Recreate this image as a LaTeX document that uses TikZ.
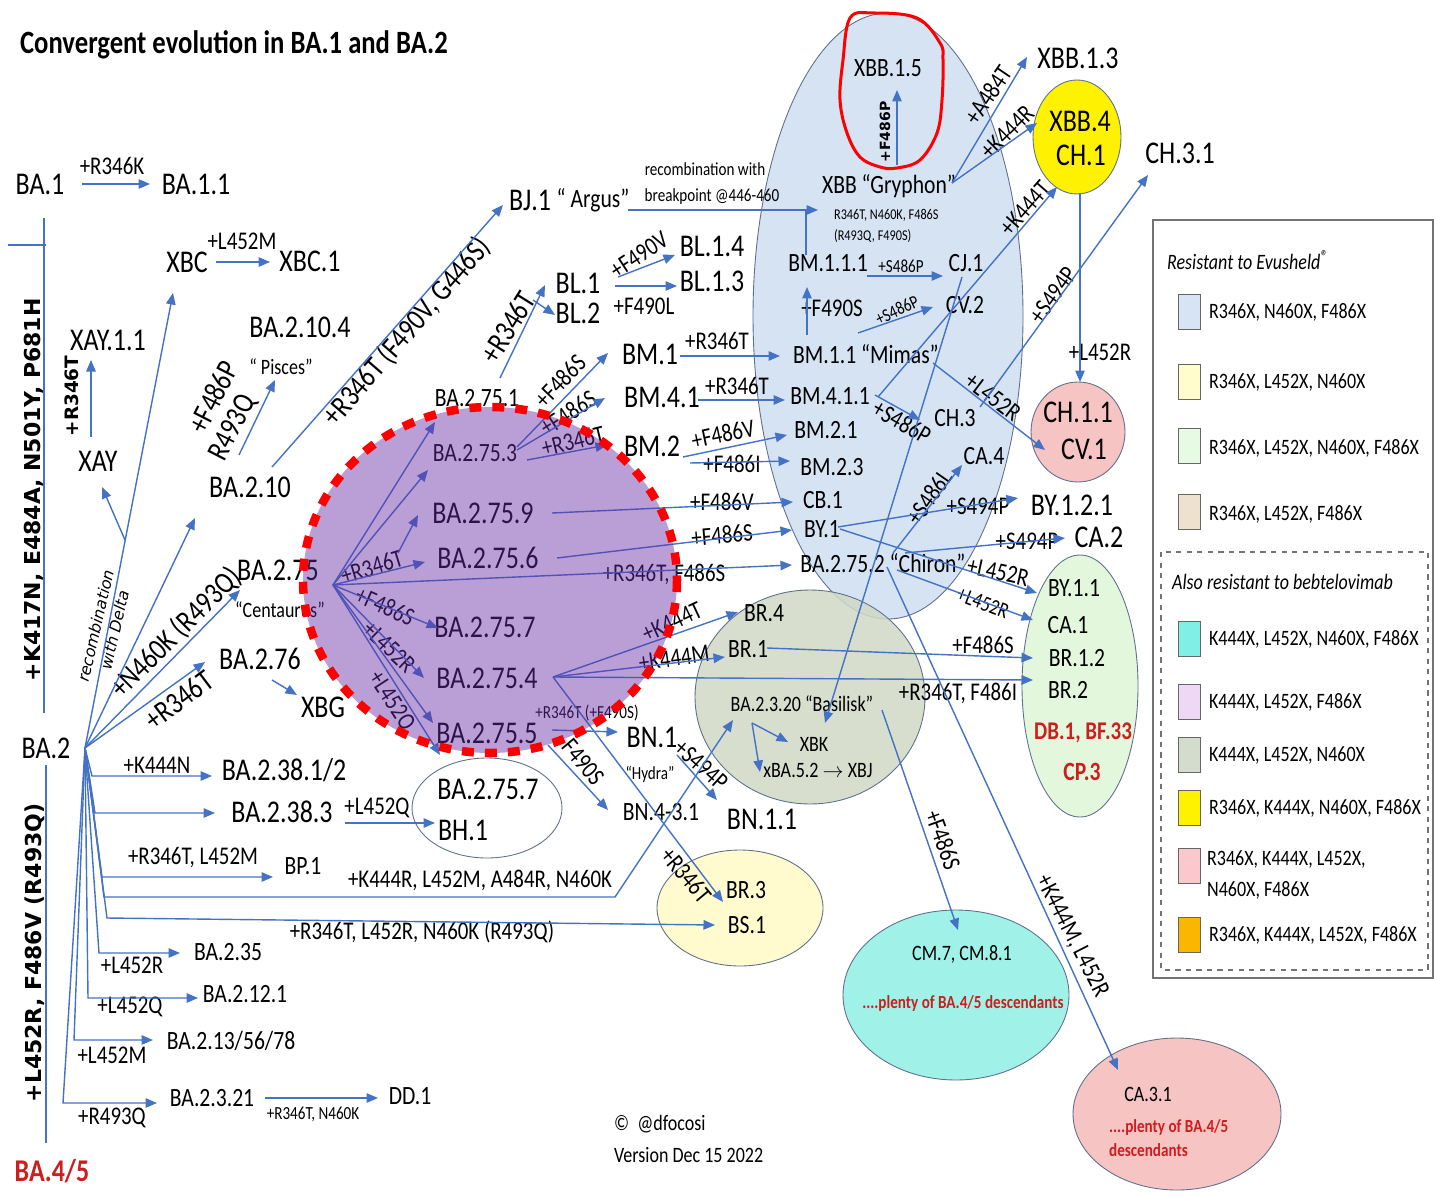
\documentclass[tikz,border=0pt]{standalone}
\usepackage{fontspec}
\setmainfont{Carlito}[FakeStretch=0.82]
\newfontfamily\sidefont{DejaVu Sans}
\usetikzlibrary{arrows.meta,calc}

\definecolor{lblue}{RGB}{68,114,196}
\definecolor{eborder}{RGB}{95,112,140}
\definecolor{xbbfill}{RGB}{214,227,243}
\definecolor{basfill}{RGB}{208,217,198}
\definecolor{grnfill}{RGB}{227,247,221}
\definecolor{pnkfill}{RGB}{247,196,196}
\definecolor{lylfill}{RGB}{255,251,206}
\definecolor{cynfill}{RGB}{160,242,232}
\definecolor{purpfill}{RGB}{100,44,166}
\definecolor{dred}{RGB}{205,30,30}

\newcommand{\fsttl}{\fontsize{18.5}{21}\selectfont\bfseries}
\newcommand{\fsbig}{\fontsize{18}{20}\selectfont}
\newcommand{\fsmid}{\fontsize{15}{17}\selectfont}
\newcommand{\fsmub}{\fontsize{17.5}{19}\selectfont}
\newcommand{\fsmut}{\fontsize{14.5}{16}\selectfont}
\newcommand{\fsbas}{\fontsize{12.5}{14}\selectfont}
\newcommand{\fssml}{\fontsize{10.5}{12}\selectfont}
\newcommand{\fstny}{\fontsize{8.5}{10}\selectfont}

\tikzset{
  varrow/.style={draw=lblue, line width=0.8pt, -{Triangle[length=2.3mm, width=1.9mm]}},
  vline/.style={draw=lblue, line width=0.8pt},
  grpell/.style={draw=eborder, line width=0.5pt},
  vttl/.style={font=\fsttl, inner sep=1pt},
  vbig/.style={font=\fsbig, inner sep=1pt},
  vmid/.style={font=\fsmid, inner sep=1pt},
  vmut/.style={font=\fsmut, inner sep=1pt},
  vmub/.style={font=\fsmub, inner sep=1pt},
  vbas/.style={font=\fsbas, inner sep=1pt},
  vsml/.style={font=\fssml, inner sep=1pt},
  vtny/.style={font=\fstny, inner sep=1pt},
  vred/.style={text=dred, inner sep=1pt},
  vside/.style={font=\sidefont\bfseries\fontsize{12.5}{14}\selectfont, rotate=90, inner sep=1pt},
  legbox/.style={draw=black!55, line width=0.6pt},
  swatch/.style={draw=black!60, line width=0.5pt, minimum width=4.4mm, minimum height=7mm, inner sep=0pt},
  legt/.style={font=\fsbas, anchor=west, inner sep=1pt},
  legh/.style={font=\fsbas\itshape, anchor=west, inner sep=1pt}
}

\begin{document}
\begin{tikzpicture}[x=0.2mm, y=-0.2mm]
\useasboundingbox (0,0) rectangle (1434,1197);
\fill[white] (0,0) rectangle (1434,1197);

\draw[grpell, fill=xbbfill] (888,316) ellipse [x radius=135, y radius=303];
\draw[grpell, fill=basfill, fill opacity=0.85] (810,697) ellipse [x radius=115, y radius=107];
\draw[grpell, fill=grnfill] (1080,686) ellipse [x radius=58, y radius=131];
\draw[grpell, fill=yellow] (1077,137) ellipse [x radius=44, y radius=57];
\draw[grpell, fill=pnkfill] (1078,432) ellipse [x radius=47, y radius=50];
\draw[grpell] (487,808) ellipse [x radius=75, y radius=50];
\draw[grpell, fill=lylfill] (740,908) ellipse [x radius=83, y radius=58];
\draw[grpell, fill=cynfill] (956,995) ellipse [x radius=113, y radius=85];
\draw[grpell, fill=pnkfill] (1177,1114) ellipse [x radius=104, y radius=76];

\node[vttl, anchor=west] (title) at (18,45) {Convergent evolution in BA.1 and BA.2};

\node[vbig] (ba1) at (40,184) {BA.1};
\node[vbig] (ba11) at (196,184) {BA.1.1};
\node[vbig] (xbc) at (187,262) {XBC};
\node[vbig] (xbc1) at (310,261) {XBC.1};
\node[vbig] (xay11) at (108,340) {XAY.1.1};
\node[vbig] (xay) at (98,461) {XAY};
\node[vbig] (ba2104) at (300,327) {BA.2.10.4};
\node[vbas] (pisces) at (281,367) {“ Pisces”};
\node[vbig] (ba210) at (250,487) {BA.2.10};
\node[vbig] (ba275) at (278,570) {BA.2.75};
\node[vbas] (centaurus) at (280,610) {“Centaurus”};
\node[vbig] (ba276) at (260,659) {BA.2.76};
\node[vbig] (xbg) at (323,707) {XBG};
\node[vbig] (ba2) at (46,748) {BA.2};
\node[vbig] (ba2381) at (284,770) {BA.2.38.1/2};
\node[vbig] (ba2383) at (282,812) {BA.2.38.3};
\node[vmid] (bp1) at (303,866) {BP.1};
\node[vmid] (ba235) at (228,952) {BA.2.35};
\node[vmid] (ba2121) at (245,994) {BA.2.12.1};
\node[vmid] (ba21356) at (231,1041) {BA.2.13/56/78};
\node[vmid] (ba2321) at (212,1098) {BA.2.3.21};
\node[vmid] (dd1) at (410,1096) {DD.1};
\node[vred, font=\fsbig\bfseries] (ba45) at (52,1171) {BA.4/5};

\node[vbig] (bj1) at (530,200) {BJ.1};
\node[vmid] (argus) at (593,200) {“ Argus”};
\node[vbig] (bl1) at (578,283) {BL.1};
\node[vbig] (bl2) at (578,313) {BL.2};
\node[vbig] (bl14) at (712,246) {BL.1.4};
\node[vbig] (bl13) at (712,281) {BL.1.3};
\node[vbig] (bm1) at (650,354) {BM.1};
\node[vbig] (bm41) at (662,397) {BM.4.1};
\node[vbig] (bm2) at (652,446) {BM.2};

\node[vmid] (ba2751) at (477,398) {BA.2.75.1};
\node[vmid] (ba2753) at (475,453) {BA.2.75.3};
\node[vbig] (ba2759) at (483,513) {BA.2.75.9};
\node[vbig] (ba2756) at (488,558) {BA.2.75.6};
\node[vbig] (ba2757) at (485,627) {BA.2.75.7};
\node[vbig] (ba2754) at (487,678) {BA.2.75.4};
\node[vbig] (ba2755) at (487,733) {BA.2.75.5};

\node[vbig] (bn1) at (652,737) {BN.1};
\node[vsml] (hydra) at (650,774) {“Hydra”};
\node[vbig] (bn11) at (762,819) {BN.1.1};
\node[vmid] (bn431) at (661,812) {BN.4-3.1};
\node[vbig] (bha) at (488,789) {BA.2.75.7};
\node[vbig] (bhb) at (463,830) {BH.1};
\node[vmid] (br3) at (746,890) {BR.3};
\node[vmid] (bs1) at (747,925) {BS.1};

\node[vmid] (xbb15) at (888,68) {XBB.1.5};
\node[vmid] (xbbg) at (889,186) {XBB “Gryphon”};
\node[vtny, anchor=west] (gry1) at (832,215) {R346T, N460K, F486S};
\node[vtny, anchor=west] (gry2) at (832,236) {(R493Q, F490S)};
\node[vmid] (bm111) at (828,263) {BM.1.1.1};
\node[vmid] (cj1) at (966,263) {CJ.1};
\node[vmid] (cv2) at (965,305) {CV.2};
\node[vmid] (bm11) at (866,354) {BM.1.1 “Mimas”};
\node[vmid] (bm411) at (830,396) {BM.4.1.1};
\node[vmid] (bm21) at (826,430) {BM.2.1};
\node[vmid] (bm23) at (832,467) {BM.2.3};
\node[vmid] (cb1) at (823,500) {CB.1};
\node[vmid] (by1) at (822,529) {BY.1};
\node[vmid] (ba2752) at (883,563) {BA.2.75.2 “Chiron”};
\node[vmid] (ch3) at (955,418) {CH.3};
\node[vmid] (ca4) at (984,456) {CA.4};

\node[vbig] (xbb13) at (1078,58) {XBB.1.3};
\node[vbig] (xbb4) at (1080,121) {XBB.4};
\node[vbig] (ch1) at (1081,155) {CH.1};
\node[vbig] (ch31) at (1180,153) {CH.3.1};
\node[vbig] (ch11) at (1078,412) {CH.1.1};
\node[vbig] (cv1) at (1084,449) {CV.1};
\node[vbig] (by121) at (1072,505) {BY.1.2.1};
\node[vbig] (ca2) at (1099,537) {CA.2};
\node[vmid] (by11) at (1074,588) {BY.1.1};
\node[vmid] (ca1) at (1068,625) {CA.1};
\node[vmid] (br12) at (1077,658) {BR.1.2};
\node[vmid] (br2) at (1068,690) {BR.2};
\node[vred, font=\fsmut\bfseries] (db1) at (1083,733) {DB.1, BF.33};
\node[vred, font=\fsmid\bfseries] (cp3) at (1082,772) {CP.3};

\node[vmid] (br4) at (764,613) {BR.4};
\node[vmid] (br1) at (748,649) {BR.1};
\node[vbas] (ba2320) at (802,704) {BA.2.3.20 “Basilisk”};
\node[vbas] (xbk) at (814,744) {XBK};
\node[vbas] (xba52) at (818,770) {xBA.5.2 $\rightarrow$ XBJ};

\node[vbas] (cm7) at (962,954) {CM.7, CM.8.1};
\node[vred, font=\fssml\bfseries] (cm7b) at (963,1003) {....plenty of BA.4/5 descendants};
\node[vbas] (ca31) at (1148,1094) {CA.3.1};
\node[vred, font=\fssml\bfseries, anchor=west] (ca31b) at (1107,1127) {....plenty of BA.4/5};
\node[vred, font=\fssml\bfseries, anchor=west] (ca31c) at (1107,1150) {descendants};

\node[vbas, anchor=west] (credit) at (612,1124) {©\ \ @dfocosi};
\node[vbas, anchor=west] (version) at (612,1155) {Version Dec 15 2022};

\node[vside] (mk417) at (34,490) {+K417N, E484A, N501Y, P681H};
\node[vside] (ml452) at (35,953) {+L452R, F486V (R493Q)};
\node[vside, font=\sidefont\bfseries\fontsize{10.5}{12}\selectfont] (mxay11) at (72,396) {+R346T};
\node[rotate=77, align=center, font=\sidefont\itshape\fontsize{9}{11}\selectfont, inner sep=1pt] (mrecd) at (105,628) {recombination\\with Delta};
\node[vmut] (mba11) at (112,166) {+R346K};
\node[vmut] (mxbc1) at (242,241) {+L452M};
\node[vmub, rotate=63] (mpis1) at (213,397) {+F486P};
\node[vmub, rotate=63] (mpis2) at (233,428) {R493Q};
\node[vmub, rotate=49] (mbj1) at (407,332) {+R346T (F490V, G446S)};
\node[vmub, rotate=45] (mba275) at (176,633) {+N460K (R493Q)};
\node[vmub, rotate=37] (mba276) at (179,700) {+R346T};
\node[vmut] (mba2381) at (157,765) {+K444N};
\node[vmut] (mbh) at (377,808) {+L452Q};
\node[vmut] (mbp1) at (193,858) {+R346T, L452M};
\node[vmut] (mbas) at (480,880) {+K444R, L452M, A484R, N460K};
\node[vmut] (mbs1) at (422,932) {+R346T, L452R, N460K (R493Q)};
\node[vmut] (mba235) at (132,965) {+L452R};
\node[vmut] (mba2121) at (130,1007) {+L452Q};
\node[vmut] (mba21356) at (112,1055) {+L452M};
\node[vmut] (mba2321) at (112,1118) {+R493Q};
\node[vsml] (mdd1) at (313,1114) {+R346T, N460K};

\node[vsml] (mrec1) at (705,169) {recombination with};
\node[vsml] (mrec2) at (712,197) {breakpoint @446-460};
\node[vmub, rotate=58] (mbl1) at (508,327) {+R346T};
\node[vmut, rotate=33] (mbl14) at (639,255) {+F490V};
\node[vmut] (mbl13) at (644,306) {+F490L};
\node[vmut] (mbm11) at (717,341) {+R346T};
\node[vmut] (mbm411) at (737,386) {+R346T};
\node[vmut, rotate=12] (mbm21) at (723,434) {+F486V};
\node[vmut] (mbm23) at (732,464) {+F486I};
\node[vmut, rotate=46] (mbm1) at (560,381) {+F486S};
\node[vmut, rotate=33] (mbm41) at (568,413) {+F486S};
\node[vmut, rotate=14] (mbm2) at (573,441) {+R346T};
\node[vmut] (mcb1) at (722,502) {+F486V};
\node[vmut, rotate=5] (mby1) at (722,535) {+F486S};
\node[vmut] (mba2752) at (664,574) {+R346T, F486S};
\node[vmut, rotate=17] (m2756) at (372,567) {+R346T};
\node[vmut, rotate=-24] (m2757) at (385,606) {+F486S};
\node[vmut, rotate=-44] (m2754) at (389,647) {+L452R};
\node[vmut, rotate=-57] (m2755) at (391,701) {+L452Q};
\node[vmut, rotate=25] (mbr4) at (672,622) {+K444T};
\node[vmut, rotate=8] (mbr1) at (674,658) {+K444M};
\node[vmut] (mbr2) at (958,693) {+R346T, F486I};
\node[vmut, rotate=-50] (mbr3) at (686,875) {+R346T};
\node[vsml] (mbn1) at (587,713) {+R346T (+F490S)};
\node[vmut, rotate=-50] (mbn431) at (583,762) {F490S};
\node[vmut, rotate=-42] (mbn11) at (701,765) {+S494P};
\node[vmut] (mbr12) at (983,645) {+F486S};
\node[vmut, rotate=-70] (mcm7) at (943,840) {+F486S};
\node[vmut, rotate=-63] (mca31) at (1072,936) {+K444M, L452R};

\node[vside, font=\sidefont\bfseries\fontsize{8}{10}\selectfont] (mxbb15) at (885,132) {+F486P};
\node[vmut, rotate=56] (mxbb13) at (988,95) {+A484T};
\node[vmut, rotate=45] (mxbb4) at (1007,132) {+K444R};
\node[vmut, rotate=49] (mch1) at (1025,208) {+K444T};
\node[vmut, rotate=54] (mch31) at (1053,295) {+S494P};
\node[vmut] (mch11) at (1100,352) {+L452R};
\node[vsml] (mcj1) at (901,266) {+S486P};
\node[vmut] (mbm111) at (832,308) {+F490S};
\node[vsml, rotate=25] (mcv2) at (897,310) {+S486P};
\node[vmut, rotate=-30] (mch3) at (902,422) {+S486P};
\node[vmut, rotate=-37] (mchl) at (993,397) {+L452R};
\node[vmut, rotate=55] (mca4) at (929,497) {+S486L};
\node[vmut] (mby121) at (978,506) {+S494P};
\node[vmut] (mca2) at (1027,541) {+S494P};
\node[vmut, rotate=-12] (mby11) at (998,572) {+L452R};
\node[vbas, rotate=-21] (mca1) at (983,603) {+L452R};

\coordinate (f2) at ($(ba2)+(39,0)$);
\coordinate (f275) at ($(ba275)+(55,15)$);

\draw[varrow] ($(ba1)+(42,0)$) -- ($(ba11)+(-46,0)$);
\draw[varrow] ($(xbc)+(29,0)$) -- ($(xbc1)+(-40,1)$);
\draw[vline] ($(ba1)+(4,34)$) -- ($(ba2)+(-2,-35)$);
\draw[vline] ($(ba1)+(-32,61)$) -- ($(ba1)+(6,61)$);
\draw[vline] ($(ba2)+(0,17)$) -- ($(ba45)+(-6,-28)$);
\draw[varrow] (f2) -- ($(xbc)+(-14,31)$);
\draw[varrow] ($(f2)+(40,-208)$) -- ($(xay)+(4,26)$);
\draw[varrow] (f2) -- ($(ba210)+(-55,31)$);
\draw[varrow] (f2) -- ($(ba275)+(-38,20)$);
\draw[varrow] (f2) -- ($(ba276)+(-55,3)$);
\draw[varrow] (f2) -- ($(f2)+(7,28)$) -- ($(ba2381)+(-72,6)$);
\draw[varrow] (f2) -- ($(f2)+(10,65)$) -- ($(ba2383)+(-67,1)$);
\draw[varrow] (f2) -- ($(f2)+(17,129)$) -- ($(bp1)+(-30,11)$);
\draw[varrow] (f2) -- ($(f2)+(19,149)$) -- ($(ba2320)+(-187,193)$) -- ($(ba2320)+(-69,16)$);
\draw[varrow] (f2) -- ($(f2)+(22,170)$) -- ($(bs1)+(-32,0)$);
\draw[varrow] (f2) -- ($(f2)+(14,205)$) -- ($(ba235)+(-48,1)$);
\draw[varrow] (f2) -- ($(f2)+(3,250)$) -- ($(ba2121)+(-47,4)$);
\draw[varrow] (f2) -- ($(f2)+(-11,292)$) -- ($(ba21356)+(-78,-1)$);
\draw[varrow] (f2) -- ($(f2)+(-22,355)$) -- ($(ba2321)+(-55,5)$);
\draw[varrow] ($(xay)+(-7,-24)$) -- ($(xay11)+(-17,20)$);
\draw[varrow] ($(ba210)+(-11,-32)$) -- ($(pisces)+(-6,13)$);
\draw[varrow] ($(ba210)+(22,-20)$) -- ($(bj1)+(-27,5)$);
\draw[varrow] ($(argus)+(35,10)$) -- ($(xbbg)+(-71,24)$);
\draw[vline] ($(bm111)+(-22,-8)$) -- ($(xbbg)+(-83,24)$);
\draw[varrow] ($(ba2751)+(23,-20)$) -- ($(bl1)+(-33,2)$);
\draw[varrow] ($(bl1)+(-45,17)$) -- ($(bl2)+(-23,2)$);
\draw[varrow] ($(bl1)+(40,-6)$) -- ($(bl14)+(-37,9)$);
\draw[varrow] ($(bl1)+(37,3)$) -- ($(bl13)+(-35,5)$);
\draw[varrow] ($(bm1)+(30,2)$) -- ($(bm11)+(-86,2)$);
\draw[varrow] ($(bm41)+(36,3)$) -- ($(bm411)+(-45,4)$);
\draw[varrow] ($(bm2)+(31,11)$) -- ($(bm21)+(-39,5)$);
\draw[varrow] ($(bm2)+(38,17)$) -- ($(bm23)+(-42,-6)$);
\draw[varrow] ($(ba2753)+(42,-6)$) -- ($(bm1)+(-42,-1)$);
\draw[varrow] ($(ba2753)+(42,-3)$) -- ($(bm41)+(-57,1)$);
\draw[varrow] ($(ba2753)+(52,7)$) -- ($(bm2)+(-45,-1)$);
\draw[varrow] (f275) -- ($(ba2751)+(-42,24)$);
\draw[varrow] (f275) -- ($(ba2753)+(-47,17)$);
\draw[varrow] (f275) -- ($(ba2756)+(-63,4)$);
\draw[varrow] ($(f275)+(65,-32)$) -- ($(ba2759)+(-65,2)$);
\draw[varrow] (f275) -- ($(ba2752)+(-91,2)$);
\draw[varrow] (f275) -- ($(ba2757)+(-47,1)$);
\draw[varrow] (f275) -- ($(ba2754)+(-63,0)$);
\draw[varrow] (f275) -- ($(ba2755)+(-54,-10)$);
\draw[varrow] (f275) -- ($(bha)+(-48,-34)$);
\draw[varrow] ($(ba2759)+(69,0)$) -- ($(cb1)+(-30,2)$);
\draw[varrow] ($(ba2756)+(69,0)$) -- ($(by1)+(-30,1)$);
\draw[varrow] ($(ba2754)+(66,-1)$) -- ($(br4)+(-26,-1)$);
\draw[varrow] ($(ba2754)+(66,-1)$) -- ($(br1)+(-23,8)$);
\draw[varrow] ($(ba2754)+(66,-1)$) -- ($(br2)+(-35,-10)$);
\draw[varrow] ($(ba2754)+(66,-1)$) -- ($(br3)+(-23,12)$);
\draw[varrow] ($(ba2755)+(65,-3)$) -- ($(bn1)+(-34,-5)$);
\draw[varrow] ($(ba2755)+(61,12)$) -- ($(bn431)+(-53,-2)$);
\draw[varrow] ($(bn1)+(25,18)$) -- ($(bn11)+(-45,-19)$);
\draw[varrow] ($(ba2383)+(63,11)$) -- ($(bhb)+(-28,-7)$);
\draw[varrow] ($(br1)+(19,-1)$) -- ($(br12)+(-44,0)$);
\draw[varrow] ($(ba2320)+(-50,19)$) -- ($(xbk)+(-26,-2)$);
\draw[varrow] ($(ba2320)+(-50,19)$) -- ($(xba52)+(-58,2)$);
\draw[varrow] ($(ba2320)+(80,6)$) -- ($(cm7)+(-4,-24)$);
\draw[varrow] ($(ba2752)+(4,4)$) -- ($(ca31)+(-30,-24)$);
\draw[varrow] ($(cj1)+(-4,14)$) -- ($(xbk)+(11,-21)$);
\draw[varrow] ($(xbbg)+(8,-21)$) -- ($(xbb15)+(9,22)$);
\draw[varrow] ($(xbbg)+(63,-3)$) -- ($(xbb13)+(-51,-1)$);
\draw[varrow] ($(xbbg)+(63,-3)$) -- ($(xbb4)+(-43,2)$);
\draw[varrow] ($(bm111)+(39,13)$) -- ($(cj1)+(-23,13)$);
\draw[varrow] ($(bm11)+(-59,-19)$) -- ($(bm111)+(-21,24)$);
\draw[varrow] ($(bm11)+(-8,-21)$) -- ($(cv2)+(-32,2)$);
\draw[varrow] ($(bm11)+(67,9)$) -- ($(ch11)+(-33,38)$);
\draw[varrow] ($(bm411)+(45,-1)$) -- ($(ch3)+(-35,2)$);
\draw[varrow] ($(bm411)+(48,1)$) -- ($(ch1)+(-24,32)$);
\draw[varrow] ($(ch3)+(25,-11)$) -- ($(ch31)+(-32,22)$);
\draw[varrow] ($(ch1)+(-1,38)$) -- ($(ch11)+(2,-30)$);
\draw[varrow] ($(by1)+(16,-2)$) -- ($(by121)+(-54,-7)$);
\draw[varrow] ($(by1)+(18,0)$) -- ($(by11)+(-37,5)$);
\draw[varrow] ($(ba2752)+(22,-10)$) -- ($(ca2)+(-34,1)$);
\draw[varrow] ($(ba2752)+(14,7)$) -- ($(ca1)+(-35,-5)$);
\draw[varrow] ($(ba2752)+(10,-10)$) -- ($(ca4)+(-22,9)$);
\draw[varrow] ($(ba2321)+(53,0)$) -- ($(dd1)+(-32,2)$);
\draw[varrow] ($(ba276)+(12,21)$) -- ($(xbg)+(-26,-12)$);

\fill[purpfill, fill opacity=0.45] (490,580) ellipse [x radius=187, y radius=173];
\draw[red, line width=1.7mm, dash pattern=on 2.4mm off 2.2mm] (490,580) ellipse [x radius=187, y radius=173];
\draw[red, line width=0.6mm] plot[smooth cycle, tension=0.6] coordinates {(850,18) (873,13) (917,18) (940,43) (943,60) (942,100) (937,133) (920,160) (897,168) (880,167) (860,157) (847,133) (840,100) (843,60)};

\draw[legbox] (1153,220) rectangle (1433,978);
\draw[legbox, dashed] (1161,552) rectangle (1428,970);
\node[legh] (lgh1) at (1165,260) {Resistant to Evusheld\textsuperscript{\fontsize{10}{10}\selectfont ®}};
\node[legh] (lgh2) at (1170,582) {Also resistant to bebtelovimab};
\node[swatch, fill={rgb,255:red,214;green,228;blue,244}] (sw1) at (1189,312) {};
\node[swatch, fill={rgb,255:red,255;green,253;blue,204}] (sw2) at (1189,382) {};
\node[swatch, fill={rgb,255:red,230;green,250;blue,228}] (sw3) at (1189,446) {};
\node[swatch, fill={rgb,255:red,238;green,226;blue,206}] (sw4) at (1189,512) {};
\node[swatch, fill={rgb,255:red,128;green,240;blue,228}] (sw5) at (1189,639) {};
\node[swatch, fill={rgb,255:red,238;green,216;blue,245}] (sw6) at (1189,702) {};
\node[swatch, fill={rgb,255:red,212;green,220;blue,206}] (sw7) at (1189,755) {};
\node[swatch, fill=yellow] (sw8) at (1189,808) {};
\node[swatch, fill={rgb,255:red,250;green,200;blue,205}] (sw9) at (1189,866) {};
\node[swatch, fill={rgb,255:red,250;green,182;blue,0}] (sw10) at (1189,935) {};
\node[legt] (lg1) at (1207,312) {R346X, N460X, F486X};
\node[legt] (lg2) at (1207,382) {R346X, L452X, N460X};
\node[legt] (lg3) at (1207,448) {R346X, L452X, N460X, F486X};
\node[legt] (lg4) at (1207,514) {R346X, L452X, F486X};
\node[legt] (lg5) at (1207,639) {K444X, L452X, N460X, F486X};
\node[legt] (lg6) at (1207,702) {K444X, L452X, F486X};
\node[legt] (lg7) at (1207,755) {K444X, L452X, N460X};
\node[legt] (lg8) at (1207,808) {R346X, K444X, N460X, F486X};
\node[legt] (lg9a) at (1205,859) {R346X, K444X, L452X,};
\node[legt] (lg9b) at (1205,890) {N460X, F486X};
\node[legt] (lg10) at (1207,935) {R346X, K444X, L452X, F486X};
\end{tikzpicture}
\end{document}
